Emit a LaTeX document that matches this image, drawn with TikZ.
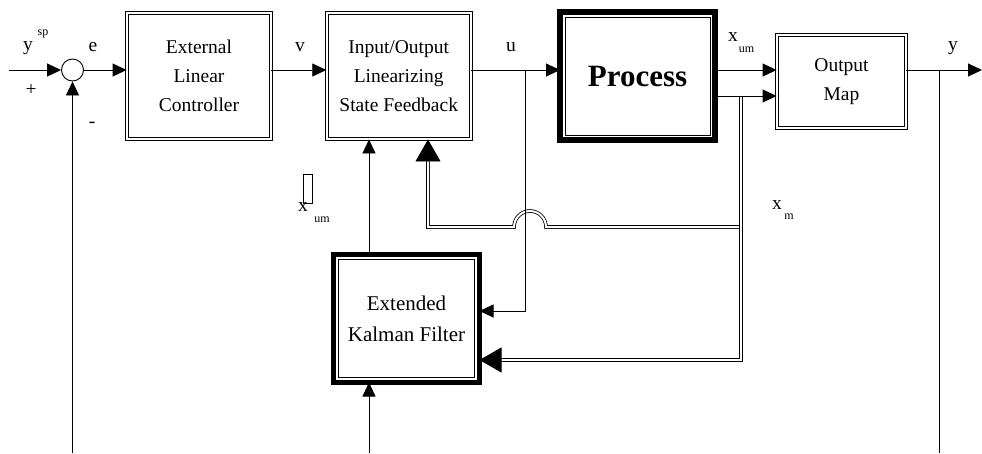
\documentclass[tikz,border=0pt]{standalone}
\usepackage{fontspec}
\setmainfont{Liberation Serif}
\usetikzlibrary{arrows.meta}

\begin{document}
\begin{tikzpicture}[x=1pt, y=-1pt,
    blk/.style={draw, double, double distance=2pt, line width=0.9pt, align=center,
      font=\fontsize{19.5}{29}\selectfont},
    heavy/.style={draw, line width=#1, outer sep=0pt, align=center},
    sig/.style={line width=0.9pt, -{Triangle[length=14pt,width=13pt]}},
    wire/.style={line width=0.9pt},
    bus/.style={double, double distance=2pt, line width=0.8pt},
    busarrow/.style={bus, -{Triangle[length=22pt,width=25pt]}},
    lbl/.style={font=\fontsize{19.5}{20}\selectfont, inner sep=0pt},
    sub/.style={font=\fontsize{12}{12}\selectfont, inner sep=0pt}]
  \useasboundingbox (0,0) rectangle (982,453);

  \node[draw, circle, line width=0.9pt, minimum size=22pt, inner sep=0pt] (sum) at (72.5,70) {};
  \node[blk, minimum width=144pt, minimum height=126pt] (ext) at (199,76) {External\\Linear\\Controller};
  \node[blk, minimum width=144pt, minimum height=126pt] (io) at (398.7,76) {Input/Output\\Linearizing\\State Feedback};
  \node[heavy=6pt, minimum width=155pt, minimum height=128pt, font=\fontsize{31}{31}\selectfont\bfseries] (proc) at (637.5,76) {Process};
  \draw[line width=0.9pt] ([shift={(5pt,-5pt)}]proc.north west) rectangle ([shift={(-5pt,5pt)}]proc.south east);
  \node[blk, minimum width=129pt, minimum height=93pt] (om) at (841.5,81.5) {Output\\Map};
  \node[heavy=5pt, minimum width=146pt, minimum height=128pt, font=\fontsize{21}{31}\selectfont] (ekf) at (406.5,318.5) {Extended\\Kalman Filter};
  \draw[line width=0.9pt] ([shift={(5pt,-5pt)}]ekf.north west) rectangle ([shift={(-5pt,5pt)}]ekf.south east);

  \coordinate (in) at (9,70);
  \coordinate (fb) at (72.5,453);
  \coordinate (ub) at (525,70);
  \coordinate (uk) at (525,311);
  \coordinate (xo) at (741,96);
  \coordinate (xj) at (741,227);
  \coordinate (xc) at (741,360);
  \coordinate (jmp) at (546,227);
  \coordinate (iob) at (428,227);
  \coordinate (yb) at (939,70);
  \coordinate (yfb) at (939,453);
  \coordinate (yend) at (982,70);
  \coordinate (ekfin) at (369,453);

  \draw[sig] (in) -- (sum.west);
  \draw[sig] (fb) -- (sum.south);
  \draw[sig] (sum.east) -- (sum -| ext.west);
  \draw[sig] (sum -| ext.east) -- (sum -| io.west);
  \draw[sig] (sum -| io.east) -- (sum -| proc.west);
  \draw[sig] (sum -| proc.east) -- (sum -| om.west);
  \draw[sig] (sum -| om.east) -- (yend);
  \draw[wire] (yb) -- (yfb);

  \draw[busarrow] (xj) -- (jmp) arc[start angle=0, end angle=180, radius=16pt] -- (iob) -- (iob |- io.south);
  \draw[busarrow] (xo) -- (xc) -- (xc -| ekf.east);
  \draw[sig] (xo -| proc.east) -- (xo -| om.west);
  \draw[sig] (ub) -- (uk) -- (uk -| ekf.east);
  \draw[sig] (ekfin) -- (ekfin |- ekf.south);
  \draw[sig] (ekfin |- ekf.north) -- (ekfin |- io.south);

  \node[lbl] (ysp) at (28,48) {y};
  \node[sub] (ysp-s) at (43,34) {sp};
  \node[lbl] (plus) at (31,90) {+};
  \node[lbl] (minus) at (92,125) {-};
  \foreach \s/\px in {e/93, v/300, u/511}
    \node[lbl] (lbl-\s) at (\px,47) {\s};
  \node[lbl] (yout) at (953,48) {y};
  \node[lbl] (xum) at (733,37) {x};
  \node[sub] (xum-s) at (746.5,50) {um};
  \node[lbl] (xm) at (777,205) {x};
  \node[sub] (xm-s) at (789,217) {m};
  \draw[line width=0.9pt] (303,174) rectangle (312,203);
  \node[lbl] (xhat) at (303,207) {x};
  \node[sub] (xhat-s) at (322,220) {um};
\end{tikzpicture}
\end{document}
